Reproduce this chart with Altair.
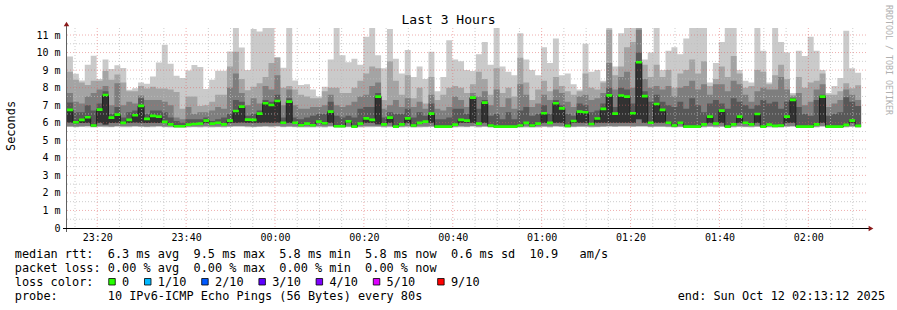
import altair as alt
import pandas as pd

# ---------------- data (milliseconds), one value per 80 s probe step ----------------
START = 23 * 60 + 13.2      # 23:13:12 (minutes after midnight of the first day)
END = START + 180           # 02:13:12
STEP = 80 / 60              # probe interval in minutes

# smoke: 10 sorted pings per step -> bands (p1,p10) (p2,p9) (p3,p8) (p4,p7) (p5,p6=median)
p10 = [9.78, 8.79, 8.41, 9.30, 9.82, 8.49, 9.60, 9.06, 9.27, 9.12,
       7.88, 7.97, 8.30, 8.22, 8.64, 9.44, 10.44, 9.36, 8.68, 8.55,
       8.98, 9.29, 9.18, 7.92, 8.45, 8.96, 8.96, 10.06, 11.40, 10.29,
       9.00, 11.35, 11.20, 11.40, 11.40, 9.74, 9.13, 11.40, 8.41, 8.15,
       8.20, 7.90, 7.50, 8.05, 9.60, 11.40, 9.85, 9.45, 9.65, 9.30,
       10.90, 11.40, 9.85, 9.10, 11.35, 9.65, 8.80, 10.15, 8.60, 9.20,
       8.50, 10.05, 7.80, 8.60, 10.70, 9.60, 9.50, 9.00, 8.95, 9.90,
       10.60, 9.30, 11.40, 9.20, 8.90, 8.70, 11.10, 9.60, 9.00, 8.70,
       10.30, 9.40, 10.80, 8.70, 8.80, 8.20, 7.90, 10.50, 8.90, 9.00,
       8.40, 11.40, 9.20, 11.10, 11.40, 11.40, 11.40, 9.60, 10.00, 11.40,
       9.00, 10.10, 10.30, 9.90, 10.80, 11.40, 11.40, 11.40, 8.30, 9.40,
       10.60, 11.40, 11.40, 9.00, 8.40, 8.30, 11.40, 10.10, 8.30, 11.40,
       10.60, 10.00, 7.70, 10.10, 9.80, 10.90, 10.10, 9.00, 7.70, 8.10,
       8.55, 11.25, 9.10, 8.85]

p9 = [8.90, 8.45, 8.30, 8.15, 8.40, 8.40, 8.95, 8.45, 8.75, 8.30,
      7.80, 7.80, 8.10, 7.95, 8.05, 7.95, 7.95, 7.90, 7.75, 6.80,
      7.50, 7.50, 6.95, 7.00, 7.20, 7.60, 7.60, 9.20, 10.05, 8.50,
      7.85, 8.05, 8.25, 8.60, 9.40, 9.70, 8.00, 8.10, 7.90, 7.60,
      7.50, 7.40, 7.40, 7.80, 8.00, 8.00, 7.70, 7.70, 8.00, 8.40,
      8.80, 9.20, 9.10, 7.30, 9.50, 8.40, 7.60, 8.70, 7.40, 8.00,
      7.10, 8.60, 7.30, 7.60, 8.00, 8.10, 8.00, 7.70, 8.20, 8.90,
      8.50, 7.60, 9.10, 7.70, 8.00, 7.50, 9.70, 8.30, 7.30, 7.90,
      8.40, 7.80, 8.60, 8.10, 7.80, 7.60, 7.80, 8.80, 8.00, 7.90,
      8.30, 11.30, 8.70, 9.20, 10.30, 10.60, 11.40, 9.30, 8.60, 9.30,
      8.60, 9.00, 8.00, 8.80, 9.00, 9.60, 8.80, 9.50, 8.10, 8.50,
      9.20, 8.60, 9.80, 8.80, 8.00, 8.10, 9.00, 8.90, 8.20, 8.70,
      9.30, 8.50, 7.60, 8.60, 8.00, 8.30, 8.40, 8.80, 7.60, 7.60,
      7.80, 8.25, 7.96, 8.13]

p8 = [7.70, 7.20, 7.10, 7.50, 7.70, 7.90, 8.10, 7.00, 8.25, 7.00,
      7.20, 7.10, 7.55, 7.30, 7.30, 7.30, 7.20, 7.00, 6.30, 6.20,
      6.90, 6.50, 6.60, 6.60, 6.70, 6.90, 6.80, 8.00, 8.80, 7.70,
      7.00, 7.40, 7.10, 8.10, 7.90, 8.70, 7.00, 7.90, 7.00, 6.80,
      6.80, 6.90, 6.90, 7.00, 7.60, 7.00, 6.90, 7.00, 7.20, 7.50,
      7.60, 8.10, 8.30, 6.80, 7.00, 7.30, 6.90, 7.40, 6.90, 7.20,
      6.80, 7.60, 6.80, 6.70, 6.90, 7.50, 7.30, 6.90, 7.70, 7.50,
      7.80, 7.00, 7.90, 6.90, 7.40, 6.80, 8.20, 7.60, 6.90, 7.10,
      7.60, 7.30, 7.90, 7.70, 7.20, 6.90, 7.50, 7.60, 7.30, 7.40,
      7.70, 9.40, 7.90, 8.60, 8.90, 8.00, 11.30, 8.50, 8.00, 8.10,
      7.90, 8.10, 7.50, 8.00, 8.10, 8.40, 7.90, 8.20, 7.60, 8.20,
      8.20, 7.80, 8.40, 8.20, 7.60, 7.20, 7.80, 8.00, 7.90, 7.90,
      8.60, 7.90, 7.50, 7.70, 7.00, 7.20, 7.90, 8.20, 6.90, 7.10,
      7.30, 7.90, 7.60, 7.30]

p7 = [7.15, 6.60, 6.60, 7.00, 6.70, 7.10, 7.80, 6.50, 6.90, 6.30,
      6.60, 6.70, 7.40, 6.50, 6.70, 6.70, 6.60, 6.30, 6.10, 6.00,
      6.20, 6.20, 6.20, 6.30, 6.10, 6.20, 6.30, 6.50, 7.30, 7.20,
      6.40, 6.50, 6.70, 7.30, 7.20, 7.60, 6.30, 7.40, 6.30, 6.20,
      6.30, 6.40, 6.50, 6.50, 7.20, 6.40, 6.30, 6.40, 6.30, 6.80,
      6.90, 6.90, 7.70, 6.30, 6.60, 6.50, 6.50, 6.80, 6.30, 6.60,
      6.40, 7.10, 6.20, 6.20, 6.30, 6.80, 6.80, 6.50, 7.45, 6.80,
      7.30, 6.40, 6.50, 6.20, 6.60, 6.20, 6.70, 6.90, 6.40, 6.50,
      7.00, 6.50, 7.30, 7.00, 6.50, 6.40, 7.10, 7.00, 6.60, 6.70,
      7.10, 8.00, 6.90, 8.00, 7.90, 7.10, 10.00, 7.80, 7.20, 7.60,
      7.20, 7.00, 6.90, 7.20, 6.80, 7.40, 7.00, 6.60, 7.10, 7.30,
      7.10, 6.80, 7.40, 7.20, 7.00, 6.80, 7.00, 7.30, 7.10, 7.20,
      6.80, 7.20, 7.40, 6.90, 6.50, 6.40, 7.30, 7.60, 6.40, 6.50,
      6.60, 7.45, 7.20, 6.96]

med = [6.73, 6.03, 6.16, 6.31, 5.84, 6.75, 7.58, 6.29, 6.46, 5.99,
       6.16, 6.43, 6.96, 6.22, 6.39, 6.35, 6.05, 5.91, 5.80, 5.80,
       5.89, 5.93, 5.95, 6.12, 5.95, 6.00, 5.91, 6.12, 6.67, 6.92,
       6.18, 6.16, 6.52, 7.11, 7.01, 7.24, 6.00, 7.20, 6.00, 5.86,
       5.95, 5.86, 6.06, 5.97, 6.63, 5.80, 5.80, 6.08, 5.78, 5.95,
       6.25, 6.16, 7.49, 5.91, 6.29, 5.78, 5.91, 6.25, 5.84, 5.99,
       6.06, 6.52, 5.78, 5.78, 5.78, 5.89, 6.16, 6.12, 7.43, 5.95,
       7.15, 5.84, 5.78, 5.78, 5.78, 5.78, 5.84, 5.99, 5.84, 5.95,
       6.54, 5.99, 7.11, 6.82, 5.82, 6.10, 6.63, 6.60, 5.93, 6.24,
       6.79, 7.56, 6.52, 7.55, 7.49, 6.54, 9.45, 7.52, 6.00, 7.07,
       6.73, 6.00, 5.84, 6.00, 5.78, 5.78, 5.78, 5.91, 6.35, 5.95,
       6.69, 5.78, 5.91, 6.35, 6.00, 5.91, 6.50, 5.78, 5.89, 5.82,
       5.84, 6.35, 7.30, 5.78, 5.78, 5.78, 5.91, 7.49, 5.78, 5.78,
       5.78, 5.88, 6.12, 5.82]

p5 = [6.02, 5.97, 5.98, 6.00, 5.80, 6.00, 5.90, 5.98, 6.00, 5.95,
      6.00, 6.02, 6.00, 5.98, 6.00, 5.98, 5.98, 5.87, 5.76, 5.76,
      5.85, 5.89, 5.90, 6.00, 5.90, 5.95, 5.87, 6.00, 6.00, 6.02,
      6.00, 6.00, 6.00, 6.02, 6.00, 6.02, 5.95, 6.00, 5.95, 5.82,
      5.90, 5.82, 5.98, 5.92, 6.00, 5.76, 5.76, 5.98, 5.74, 5.92,
      6.00, 6.00, 5.92, 5.87, 6.00, 5.74, 5.87, 6.00, 5.80, 5.94,
      5.98, 6.00, 5.74, 5.74, 5.74, 5.85, 6.00, 6.00, 6.00, 5.90,
      6.00, 5.80, 5.74, 5.74, 5.74, 5.74, 5.80, 5.94, 5.80, 5.90,
      6.00, 5.94, 6.00, 6.00, 5.78, 6.00, 6.00, 6.00, 5.88, 6.00,
      6.00, 6.00, 6.00, 6.00, 6.00, 6.00, 6.20, 6.00, 5.95, 6.00,
      6.00, 5.95, 5.80, 5.95, 5.74, 5.74, 5.74, 5.87, 6.00, 5.90,
      6.00, 5.74, 5.87, 6.00, 5.95, 5.87, 6.00, 5.74, 5.85, 5.78,
      5.80, 6.00, 6.00, 5.74, 5.74, 5.74, 5.87, 6.00, 5.74, 5.74,
      5.74, 5.84, 6.00, 5.78]

lo2 = [5.80, 5.79, 5.80, 5.81, 5.78, 5.80, 5.80, 5.79, 5.81, 5.80,
       5.80, 5.81, 5.80, 5.79, 5.80, 5.81, 5.79, 5.78, 5.76, 5.76,
       5.78, 5.79, 5.79, 5.80, 5.78, 5.79, 5.78, 5.80, 5.81, 5.81,
       5.80, 5.79, 5.80, 5.81, 5.80, 5.81, 5.79, 5.80, 5.79, 5.78,
       5.78, 5.78, 5.80, 5.79, 5.81, 5.76, 5.76, 5.79, 5.75, 5.79,
       5.80, 5.80, 5.80, 5.78, 5.80, 5.75, 5.78, 5.80, 5.77, 5.79,
       5.79, 5.80, 5.75, 5.75, 5.75, 5.78, 5.80, 5.79, 5.81, 5.78,
       5.80, 5.77, 5.75, 5.75, 5.75, 5.75, 5.77, 5.79, 5.77, 5.78,
       5.80, 5.79, 5.81, 5.80, 5.76, 5.79, 5.80, 5.80, 5.78, 5.79,
       5.80, 5.81, 5.80, 5.81, 5.81, 5.80, 5.82, 5.81, 5.79, 5.80,
       5.80, 5.79, 5.77, 5.79, 5.75, 5.75, 5.75, 5.78, 5.80, 5.78,
       5.80, 5.75, 5.78, 5.80, 5.79, 5.78, 5.80, 5.75, 5.78, 5.76,
       5.77, 5.80, 5.81, 5.75, 5.75, 5.75, 5.78, 5.81, 5.75, 5.75,
       5.75, 5.78, 5.80, 5.76]

lo1 = [5.75, 5.74, 5.75, 5.74, 5.73, 5.75, 5.74, 5.74, 5.75, 5.74,
       5.74, 5.75, 5.75, 5.74, 5.74, 5.75, 5.74, 5.73, 5.72, 5.72,
       5.73, 5.74, 5.73, 5.74, 5.73, 5.74, 5.73, 5.75, 5.75, 5.75,
       5.74, 5.74, 5.75, 5.75, 5.74, 5.75, 5.74, 5.75, 5.74, 5.73,
       5.73, 5.73, 5.74, 5.73, 5.75, 5.72, 5.72, 5.74, 5.71, 5.73,
       5.74, 5.74, 5.75, 5.73, 5.74, 5.71, 5.73, 5.74, 5.72, 5.73,
       5.74, 5.75, 5.71, 5.71, 5.71, 5.73, 5.74, 5.74, 5.75, 5.73,
       5.75, 5.72, 5.71, 5.71, 5.71, 5.71, 5.72, 5.73, 5.72, 5.73,
       5.75, 5.73, 5.75, 5.75, 5.72, 5.74, 5.75, 5.75, 5.73, 5.74,
       5.75, 5.75, 5.75, 5.75, 5.75, 5.75, 5.76, 5.75, 5.74, 5.75,
       5.75, 5.74, 5.72, 5.74, 5.71, 5.71, 5.71, 5.73, 5.75, 5.73,
       5.75, 5.71, 5.73, 5.75, 5.74, 5.73, 5.75, 5.71, 5.73, 5.72,
       5.72, 5.75, 5.75, 5.71, 5.71, 5.71, 5.73, 5.75, 5.71, 5.71,
       5.71, 5.73, 5.75, 5.72]

x_ticks = [1400, 1420, 1440, 1460, 1480, 1500, 1520, 1540, 1560]   # 23:20 ... 02:00
y_ticks = [0, 1, 2, 3, 4, 5, 6, 7, 8, 9, 10, 11]

title_text = "Last 3 Hours"
y_title = "Seconds"
watermark = "RRDTOOL / TOBI OETIKER"
legend_lines = [
    "median rtt:  6.3 ms avg  9.5 ms max  5.8 ms min  5.8 ms now  0.6 ms sd  10.9   am/s",
    "packet loss: 0.00 % avg  0.00 % max  0.00 % min  0.00 % now",
    "loss color:",
    "probe:       10 IPv6-ICMP Echo Pings (56 Bytes) every 80s",
]
end_text = "end: Sun Oct 12 02:13:12 2025"
loss_labels = ["0", "1/10", "2/10", "3/10", "4/10", "5/10", "9/10"]
loss_colors = ["#26ff00", "#00b8ff", "#0059ff", "#5e00ff", "#7e00ff", "#dd00ff", "#ff0000"]
loss_box_chars = [13, 18, 26, 34, 42, 50, 59]
loss_text_chars = [15, 20, 28, 36, 44, 52, 61]

# ---------------- layout ----------------
W, H = 800, 200
PAD_L, PAD_T = 67, 28
MONO = "DejaVu Sans Mono"
CH = 7.15                    # monospace character advance (px)
X0 = 14.8 - PAD_L            # legend text origin, relative to plot
NB = "\u00a0"

n = len(med)
tt = [START + i * STEP for i in range(n + 1)]

def ext(a):
    return list(a) + [a[-1]]

XS = alt.Scale(domain=[START, END], nice=False, zero=False)
YS = alt.Scale(domain=[0, 11.4], nice=False, zero=False)
x_axis = alt.Axis(
    values=x_ticks, title=None, grid=False, ticks=False, domain=False,
    labelFont=MONO, labelFontSize=10, labelColor="#000000", labelPadding=4,
    labelFlush=False,
    labelExpr="(floor(datum.value / 60) % 24 < 10 ? '0' : '') + (floor(datum.value / 60) % 24)"
              " + ':' + (datum.value % 60 < 10 ? '0' : '') + (datum.value % 60)",
)
y_axis = alt.Axis(
    values=y_ticks, title=None, grid=False, ticks=False, domain=False,
    labelFont=MONO, labelFontSize=10, labelColor="#000000", labelPadding=7,
    labelExpr="datum.value == 0 ? '0' : datum.value + ' m'",
)


def X(f):
    return alt.X(f"{f}:Q", scale=XS, axis=x_axis)


def Y(f):
    return alt.Y(f"{f}:Q", scale=YS, axis=y_axis)


layers = []

# smoke bands, outer (light) to inner (dark)
for lo, hi, col in [(lo1, p10, "#cacaca"), (lo2, p9, "#a4a4a4"), (lo2, p8, "#7e7e7e"),
                    (p5, p7, "#585858"), (p5, med, "#323232")]:
    df = pd.DataFrame({"t": tt, "lo": ext(lo), "hi": ext(hi)})
    layers.append(
        alt.Chart(df).mark_area(interpolate="step-after", color=col, opacity=1, clip=True)
        .encode(x=X("t"), y=Y("lo"), y2="hi")
    )

# grid (drawn over the smoke)
minor_t = [m for m in range(1395, 1575, 5) if m % 20 != 0]
major_t = list(x_ticks)
minor_v = [v + 0.5 for v in range(0, 11)]
major_v = [v for v in range(1, 12)]
layers.append(
    alt.Chart(pd.DataFrame({"t": minor_t})).mark_rule(color="#bcbcbc", strokeDash=[1, 2], strokeWidth=1, opacity=0.75)
    .encode(x=X("t"), y=alt.value(0), y2=alt.value(H))
)
layers.append(
    alt.Chart(pd.DataFrame({"v": minor_v})).mark_rule(color="#bcbcbc", strokeDash=[1, 2], strokeWidth=1, opacity=0.75)
    .encode(y=Y("v"), x=alt.value(0), x2=alt.value(W + 1))
)
layers.append(
    alt.Chart(pd.DataFrame({"t": major_t})).mark_rule(color="#e06060", strokeDash=[1, 2], strokeWidth=1, opacity=0.5)
    .encode(x=X("t"), y=alt.value(0), y2=alt.value(H))
)
layers.append(
    alt.Chart(pd.DataFrame({"v": major_v})).mark_rule(color="#e06060", strokeDash=[1, 2], strokeWidth=1, opacity=0.5)
    .encode(y=Y("v"), x=alt.value(0), x2=alt.value(W + 1))
)

# median: thin dark step line + green loss-colour band
mdf = pd.DataFrame({"t": tt, "m": ext(med)})
layers.append(
    alt.Chart(mdf).mark_line(interpolate="step-after", color="#202020", strokeWidth=1, clip=True)
    .encode(x=X("t"), y=Y("m"))
)
layers.append(
    alt.Chart(mdf).transform_calculate(a="datum.m - 0.075", b="datum.m + 0.075")
    .mark_area(interpolate="step-after", color="#26ff00", opacity=1, clip=True)
    .encode(x=X("t"), y=Y("a"), y2="b")
)

one = pd.DataFrame({"k": [0]})
# axes lines and arrows
layers.append(alt.Chart(one).mark_rule(color="#606060", strokeWidth=1)
              .encode(x=alt.value(-0.5), y=alt.value(-4), y2=alt.value(H + 4)))
layers.append(alt.Chart(one).mark_rule(color="#000000", strokeWidth=1)
              .encode(x=alt.value(-4), x2=alt.value(W + 3), y=alt.value(H + 0.5)))
layers.append(alt.Chart(one).mark_point(shape="triangle-up", filled=True, size=30, color="#8b1a1a", opacity=1)
              .encode(x=alt.value(-0.5), y=alt.value(-4)))
layers.append(alt.Chart(one).mark_point(shape="triangle-right", filled=True, size=30, color="#8b1a1a", opacity=1)
              .encode(x=alt.value(W + 4), y=alt.value(H + 0.5)))

# title, axis title, watermark
layers.append(alt.Chart(one).mark_text(font=MONO, fontSize=13, color="#000000", align="center", baseline="middle")
              .encode(x=alt.value(448.5 - PAD_L), y=alt.value(19.5 - PAD_T), text=alt.value(title_text)))
layers.append(alt.Chart(one).mark_text(font=MONO, fontSize=11.88, color="#000000", align="center", baseline="middle", angle=270)
              .encode(x=alt.value(11 - PAD_L), y=alt.value(126 - PAD_T), text=alt.value(y_title)))
layers.append(alt.Chart(one).mark_text(font=MONO, fontSize=8.3, color="#b0b0b0", align="center", baseline="middle", angle=90)
              .encode(x=alt.value(888 - PAD_L), y=alt.value(60 - PAD_T), text=alt.value(watermark)))

# legend text
ys = [254.3, 268.3, 282.3, 296.3]
tx = [X0] * len(legend_lines) + [X0 + c * CH for c in loss_text_chars] + [677.7 - PAD_L]
tyv = [y - PAD_T for y in ys] + [282.3 - PAD_T] * len(loss_labels) + [296.3 - PAD_T]
tt_txt = [s.replace(" ", NB) for s in legend_lines] + loss_labels + [end_text.replace(" ", NB)]
tdf = pd.DataFrame({"px": tx, "py": tyv, "s": tt_txt})
layers.append(alt.Chart(tdf).mark_text(font=MONO, fontSize=11.88, color="#000000", align="left", baseline="middle")
              .encode(x=alt.X("px:Q", scale=None), y=alt.Y("py:Q", scale=None), text="s:N"))

bx = [X0 + c * CH + 1.0 for c in loss_box_chars]
bdf = pd.DataFrame({"x1": bx, "x2": [b + 6.5 for b in bx],
                    "y1": [278.5 - PAD_T] * len(bx), "y2": [285.0 - PAD_T] * len(bx),
                    "c": loss_colors})
layers.append(alt.Chart(bdf).mark_rect(stroke="#000000", strokeWidth=0.8)
              .encode(x=alt.X("x1:Q", scale=None), x2="x2", y=alt.Y("y1:Q", scale=None), y2="y2",
                      color=alt.Color("c:N", scale=None)))

chart = (
    alt.layer(*layers)
    .properties(width=W, height=H, autosize=alt.AutoSizeParams(type="none"),
                padding={"left": PAD_L, "top": PAD_T, "right": 897 - PAD_L - W, "bottom": 310 - PAD_T - H})
    .configure(background="white")
    .configure_view(stroke=None)
)

chart.save("out.html", embed_options={"renderer": "svg", "actions": False})
